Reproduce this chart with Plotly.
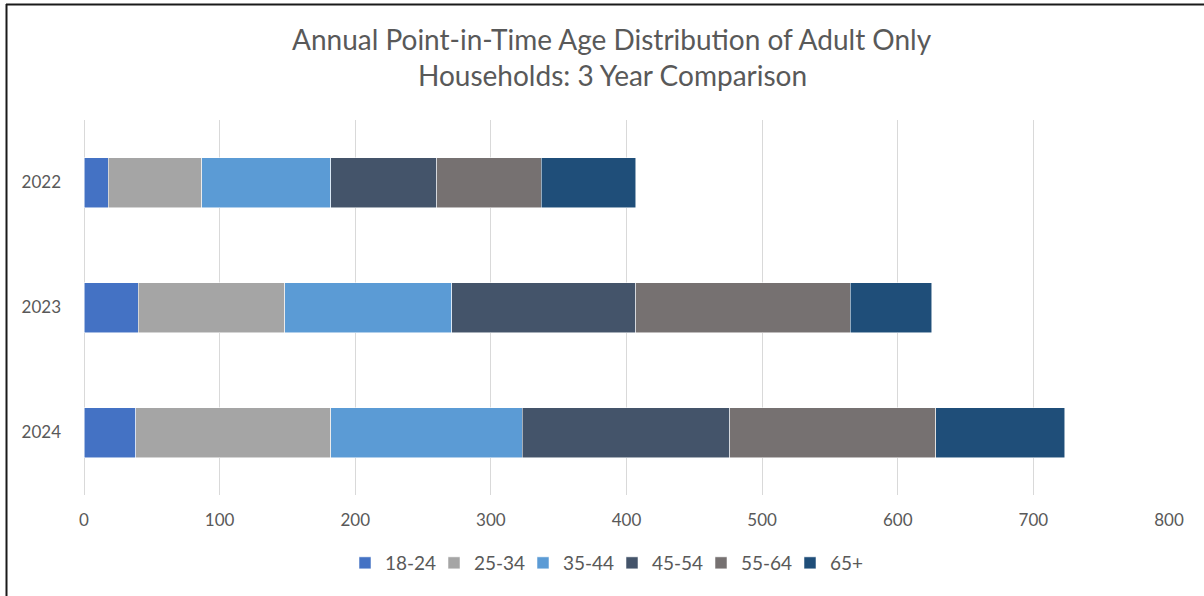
import plotly.graph_objects as go

# Point-in-time counts of adult-only households by age group
years = ["2022", "2023", "2024"]
age_groups = ["18-24", "25-34", "35-44", "45-54", "55-64", "65+"]
counts_18_24 = [18, 40, 38]
counts_25_34 = [69, 108, 144]
counts_35_44 = [95, 123, 141]
counts_45_54 = [78, 136, 153]
counts_55_64 = [77, 158, 152]
counts_65_plus = [70, 60, 95]
colors = ["#4472C4", "#A5A5A5", "#5B9BD5", "#44546A", "#767171", "#1F4E79"]
title_lines = ["Annual Point-in-Time Age Distribution of Adult Only",
               "Households: 3 Year Comparison"]

series = [counts_18_24, counts_25_34, counts_35_44, counts_45_54, counts_55_64, counts_65_plus]

W, H = 1204, 596
ML, MR, MT, MB = 84, 35, 120, 101
PW, PH = W - ML - MR, H - MT - MB

font = "Lato, Open Sans, sans-serif"
grey = "#595959"

fig = go.Figure()
for name, vals, col in zip(age_groups, series, colors):
    fig.add_trace(go.Bar(
        y=years, x=vals, name=name, orientation="h",
        marker=dict(color=col, line=dict(color="rgba(255,255,255,0.7)", width=0.75)),
        width=0.4,
    ))

def px_x(x):
    return (x - ML) / PW

def px_y(y):
    return (H - MB - y) / PH

# two-line chart heading, each line placed on its own
annotations = [
    dict(text=line, xref="paper", yref="paper", x=px_x(612), y=px_y(yc),
         xanchor="center", yanchor="middle", showarrow=False,
         font=dict(family=font, size=28, color=grey))
    for line, yc in zip(title_lines, [39, 75])
]

fig.update_layout(
    width=W, height=H,
    margin=dict(l=ML, r=MR, t=MT, b=MB),
    barmode="stack",
    plot_bgcolor="white", paper_bgcolor="white",
    font=dict(family=font, color=grey),
    annotations=annotations,
    xaxis=dict(
        range=[0, 800], dtick=100, showgrid=True, gridcolor="#D9D9D9", gridwidth=1,
        zeroline=True, zerolinecolor="#D9D9D9", zerolinewidth=1,
        showline=False, ticks="", ticklabelstandoff=13,
        tickfont=dict(size=17, color=grey),
    ),
    yaxis=dict(
        autorange="reversed", showgrid=False, showline=False, ticks="",
        ticklabelstandoff=22, tickfont=dict(size=17, color=grey),
    ),
    legend=dict(
        orientation="h", x=px_x(612), xanchor="center", y=px_y(563), yanchor="middle",
        font=dict(size=19, color=grey), traceorder="normal",
        entrywidth=44, entrywidthmode="pixels", itemwidth=30,
    ),
    showlegend=True,
    shapes=[
        dict(type="line", xref="paper", yref="paper",
             x0=px_x(6), x1=px_x(W), y0=px_y(4.5), y1=px_y(4.5),
             line=dict(color="#1a1a1a", width=2)),
        dict(type="line", xref="paper", yref="paper",
             x0=px_x(6.5), x1=px_x(6.5), y0=px_y(4), y1=px_y(H),
             line=dict(color="#1a1a1a", width=2)),
    ],
)

fig.write_html("out.html")
